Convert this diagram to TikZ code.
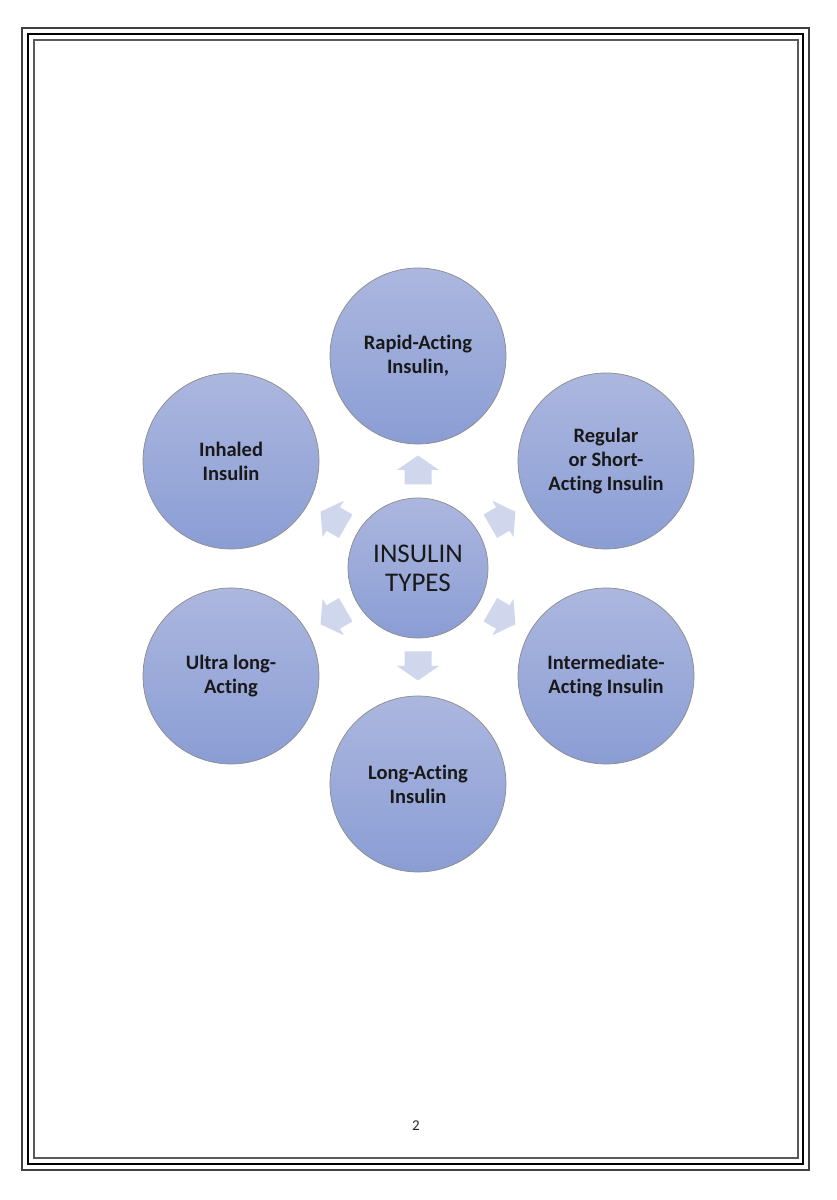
\documentclass[tikz,border=0pt]{standalone}
\usepackage{fontspec}
\setmainfont{Carlito}[Ligatures=CommonOff]
\usetikzlibrary{calc}
\begin{document}
\begin{tikzpicture}[x=1pt,y=1pt,
  sat/.style={circle, draw=black!45, line width=0.7pt, minimum size=176pt, inner sep=0pt,
    top color=satTop, bottom color=satBot, align=center, font=\fontsize{20.5}{24}\selectfont\bfseries, text=black!90},
  hub/.style={circle, draw=black!45, line width=0.7pt, minimum size=140pt, inner sep=0pt,
    top color=satTop, bottom color=satBot, align=center, font=\fontsize{27}{29}\selectfont, text=black!90},
  blockarrow/.style={fill=arrowCol, draw=none}
]
\definecolor{satTop}{RGB}{172,183,223}
\definecolor{satBot}{RGB}{138,157,212}
\definecolor{arrowCol}{RGB}{208,214,236}
\useasboundingbox (0,0) rectangle (836,1200);
\fill[white] (0,0) rectangle (836,1200);
% page border
\draw[line width=1.2pt, black!75] (22,30) rectangle (809,1172);
\draw[line width=2.2pt, black] (28,36) rectangle (803,1166);
\draw[line width=1.2pt, black!65] (34,42) rectangle (798,1160);
% hub
\node[hub] (c) at (418,632) {INSULIN\\TYPES};
% satellites
\node[sat] (top) at (418,844) {Rapid-Acting\\Insulin,};
\node[sat] (tr) at (606,739) {Regular\\or Short-\\Acting Insulin};
\node[sat] (br) at (606,524) {Intermediate-\\Acting Insulin};
\node[sat] (bot) at (418,416) {Long-Acting\\Insulin};
\node[sat] (bl) at (231,524) {Ultra long-\\Acting};
\node[sat] (tl) at (231,739) {Inhaled\\Insulin};
% arrows
\foreach \a/\n in {90/a1,30/a2,-30/a3,-90/a4,-150/a5,150/a6}{
  \coordinate (\n) at ($(c.center)+(\a:98)$);
  \fill[blockarrow, shift={(\n)}, rotate=\a-90]
    (-13.5,-14.5) -- (13.5,-14.5) -- (13.5,0) -- (21,0) -- (0,14.5) -- (-21,0) -- (-13.5,0) -- cycle;
}
% page number
\node[font=\fontsize{15}{17}\selectfont, text=black!85] (pg) at (416,74) {2};
\end{tikzpicture}
\end{document}
